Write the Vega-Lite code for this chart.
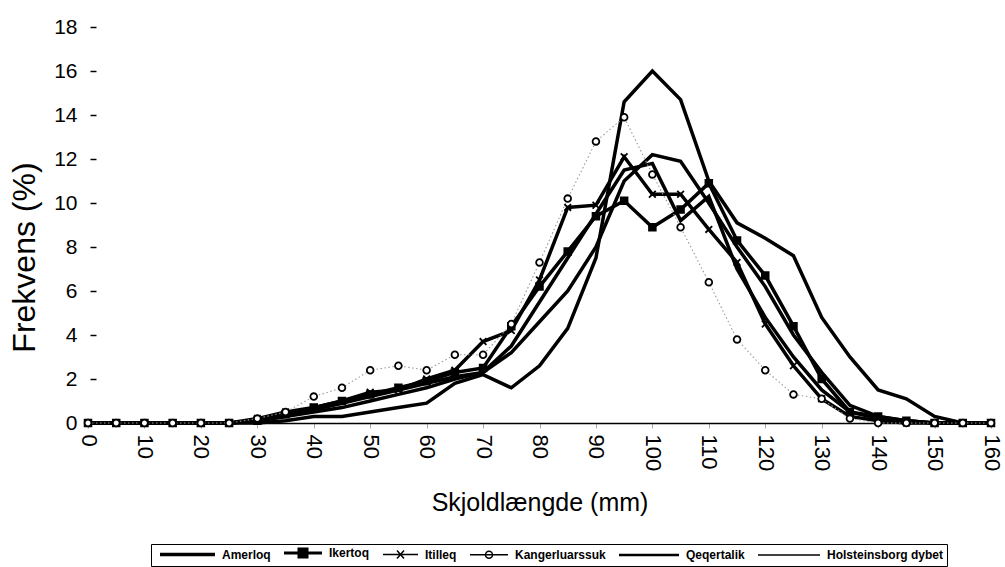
{
  "$schema": "https://vega.github.io/schema/vega-lite/v6.json",
  "autosize": "none",
  "width": 903,
  "height": 396,
  "padding": {"left": 88, "top": 27, "right": 14, "bottom": 144},
  "background": "white",
  "config": {
    "view": {"stroke": null},
    "font": "Liberation Sans",
    "axis": {"labelColor": "black", "titleColor": "black", "grid": false, "labelFont": "Liberation Sans", "titleFont": "Liberation Sans", "titleFontWeight": "normal"}
  },
  "data": {
    "values": [
      {"x": 0, "Amerloq": 0, "Ikertoq": 0, "Itilleq": 0, "Kangerluarssuk": 0, "Qeqertalik": 0, "Holsteinsborg dybet": 0},
      {"x": 5, "Amerloq": 0, "Ikertoq": 0, "Itilleq": 0, "Kangerluarssuk": 0, "Qeqertalik": 0, "Holsteinsborg dybet": 0},
      {"x": 10, "Amerloq": 0, "Ikertoq": 0, "Itilleq": 0, "Kangerluarssuk": 0, "Qeqertalik": 0, "Holsteinsborg dybet": 0},
      {"x": 15, "Amerloq": 0, "Ikertoq": 0, "Itilleq": 0, "Kangerluarssuk": 0, "Qeqertalik": 0, "Holsteinsborg dybet": 0},
      {"x": 20, "Amerloq": 0, "Ikertoq": 0, "Itilleq": 0, "Kangerluarssuk": 0, "Qeqertalik": 0, "Holsteinsborg dybet": 0},
      {"x": 25, "Amerloq": 0, "Ikertoq": 0, "Itilleq": 0, "Kangerluarssuk": 0, "Qeqertalik": 0, "Holsteinsborg dybet": 0},
      {"x": 30, "Amerloq": 0.1, "Ikertoq": 0.1, "Itilleq": 0.2, "Kangerluarssuk": 0.2, "Qeqertalik": 0.1, "Holsteinsborg dybet": 0},
      {"x": 35, "Amerloq": 0.3, "Ikertoq": 0.4, "Itilleq": 0.5, "Kangerluarssuk": 0.5, "Qeqertalik": 0.3, "Holsteinsborg dybet": 0.1},
      {"x": 40, "Amerloq": 0.6, "Ikertoq": 0.7, "Itilleq": 0.7, "Kangerluarssuk": 1.2, "Qeqertalik": 0.5, "Holsteinsborg dybet": 0.3},
      {"x": 45, "Amerloq": 0.9, "Ikertoq": 1.0, "Itilleq": 1.0, "Kangerluarssuk": 1.6, "Qeqertalik": 0.7, "Holsteinsborg dybet": 0.3},
      {"x": 50, "Amerloq": 1.2, "Ikertoq": 1.3, "Itilleq": 1.4, "Kangerluarssuk": 2.4, "Qeqertalik": 1.0, "Holsteinsborg dybet": 0.5},
      {"x": 55, "Amerloq": 1.5, "Ikertoq": 1.6, "Itilleq": 1.5, "Kangerluarssuk": 2.6, "Qeqertalik": 1.3, "Holsteinsborg dybet": 0.7},
      {"x": 60, "Amerloq": 1.8, "Ikertoq": 1.9, "Itilleq": 2.0, "Kangerluarssuk": 2.4, "Qeqertalik": 1.6, "Holsteinsborg dybet": 0.9},
      {"x": 65, "Amerloq": 2.1, "Ikertoq": 2.3, "Itilleq": 2.4, "Kangerluarssuk": 3.1, "Qeqertalik": 2.0, "Holsteinsborg dybet": 1.8},
      {"x": 70, "Amerloq": 2.3, "Ikertoq": 2.5, "Itilleq": 3.7, "Kangerluarssuk": 3.1, "Qeqertalik": 2.3, "Holsteinsborg dybet": 2.2},
      {"x": 75, "Amerloq": 3.2, "Ikertoq": 4.4, "Itilleq": 4.2, "Kangerluarssuk": 4.5, "Qeqertalik": 3.5, "Holsteinsborg dybet": 1.6},
      {"x": 80, "Amerloq": 4.6, "Ikertoq": 6.2, "Itilleq": 6.5, "Kangerluarssuk": 7.3, "Qeqertalik": 5.5, "Holsteinsborg dybet": 2.6},
      {"x": 85, "Amerloq": 6.0, "Ikertoq": 7.8, "Itilleq": 9.8, "Kangerluarssuk": 10.2, "Qeqertalik": 7.5, "Holsteinsborg dybet": 4.3},
      {"x": 90, "Amerloq": 8.0, "Ikertoq": 9.4, "Itilleq": 9.9, "Kangerluarssuk": 12.8, "Qeqertalik": 9.5, "Holsteinsborg dybet": 7.5},
      {"x": 95, "Amerloq": 11.0, "Ikertoq": 10.1, "Itilleq": 12.1, "Kangerluarssuk": 13.9, "Qeqertalik": 11.5, "Holsteinsborg dybet": 14.6},
      {"x": 100, "Amerloq": 12.2, "Ikertoq": 8.9, "Itilleq": 10.4, "Kangerluarssuk": 11.3, "Qeqertalik": 11.8, "Holsteinsborg dybet": 16.0},
      {"x": 105, "Amerloq": 11.9, "Ikertoq": 9.7, "Itilleq": 10.4, "Kangerluarssuk": 8.9, "Qeqertalik": 9.2, "Holsteinsborg dybet": 14.7},
      {"x": 110, "Amerloq": 10.0, "Ikertoq": 10.9, "Itilleq": 8.8, "Kangerluarssuk": 6.4, "Qeqertalik": 10.3, "Holsteinsborg dybet": 11.0},
      {"x": 115, "Amerloq": 8.0, "Ikertoq": 8.3, "Itilleq": 7.3, "Kangerluarssuk": 3.8, "Qeqertalik": 7.0, "Holsteinsborg dybet": 9.1},
      {"x": 120, "Amerloq": 6.2, "Ikertoq": 6.7, "Itilleq": 4.5, "Kangerluarssuk": 2.4, "Qeqertalik": 4.8, "Holsteinsborg dybet": 8.4},
      {"x": 125, "Amerloq": 4.0, "Ikertoq": 4.4, "Itilleq": 2.6, "Kangerluarssuk": 1.3, "Qeqertalik": 3.0, "Holsteinsborg dybet": 7.6},
      {"x": 130, "Amerloq": 2.3, "Ikertoq": 2.0, "Itilleq": 1.1, "Kangerluarssuk": 1.1, "Qeqertalik": 1.5, "Holsteinsborg dybet": 4.8},
      {"x": 135, "Amerloq": 0.8, "Ikertoq": 0.5, "Itilleq": 0.3, "Kangerluarssuk": 0.2, "Qeqertalik": 0.5, "Holsteinsborg dybet": 3.0},
      {"x": 140, "Amerloq": 0.3, "Ikertoq": 0.3, "Itilleq": 0.1, "Kangerluarssuk": 0, "Qeqertalik": 0.2, "Holsteinsborg dybet": 1.5},
      {"x": 145, "Amerloq": 0.1, "Ikertoq": 0.1, "Itilleq": 0, "Kangerluarssuk": 0, "Qeqertalik": 0.1, "Holsteinsborg dybet": 1.1},
      {"x": 150, "Amerloq": 0, "Ikertoq": 0, "Itilleq": 0, "Kangerluarssuk": 0, "Qeqertalik": 0, "Holsteinsborg dybet": 0.3},
      {"x": 155, "Amerloq": 0, "Ikertoq": 0, "Itilleq": 0, "Kangerluarssuk": 0, "Qeqertalik": 0, "Holsteinsborg dybet": 0},
      {"x": 160, "Amerloq": 0, "Ikertoq": 0, "Itilleq": 0, "Kangerluarssuk": 0, "Qeqertalik": 0, "Holsteinsborg dybet": 0}
    ]
  },
  "transform": [
    {"fold": ["Amerloq", "Ikertoq", "Itilleq", "Kangerluarssuk", "Qeqertalik", "Holsteinsborg dybet"], "as": ["series", "v"]}
  ],
  "encoding": {
    "x": {
      "field": "x", "type": "quantitative",
      "scale": {"domain": [0, 160], "nice": false},
      "axis": {
        "values": [0, 10, 20, 30, 40, 50, 60, 70, 80, 90, 100, 110, 120, 130, 140, 150, 160],
        "labelAngle": 90, "labelFontSize": 22, "labelPadding": 6,
        "tickSize": 5, "tickColor": "#aaa", "domainColor": "black", "domainWidth": 1.5,
        "title": "Skjoldlængde (mm)", "titleFontSize": 25, "titlePadding": 20
      }
    },
    "y": {
      "field": "v", "type": "quantitative",
      "scale": {"domain": [0, 18], "nice": false},
      "axis": {
        "values": [0, 2, 4, 6, 8, 10, 12, 14, 16, 18],
        "offset": -8, "domain": false, "tickSize": 6, "tickColor": "black", "tickWidth": 1.5,
        "labelPadding": 13, "labelFontSize": 21,
        "title": "Frekvens (%)", "titleFontSize": 32, "titlePadding": 12, "titleY": 230
      }
    }
  },
  "layer": [
    {
      "transform": [{"filter": "datum.series !== 'Kangerluarssuk'"}],
      "mark": {"type": "line", "strokeJoin": "miter"},
      "encoding": {
        "color": {
          "field": "series", "type": "nominal",
          "scale": {"domain": ["Amerloq", "Ikertoq", "Itilleq", "Kangerluarssuk", "Qeqertalik", "Holsteinsborg dybet"], "range": ["black", "black", "black", "black", "black", "black"]},
          "legend": {
            "orient": "none", "legendX": 63, "legendY": 517, "direction": "horizontal", "columns": 6,
            "title": null, "labelFont": "Liberation Sans", "labelFontSize": 12, "labelFontWeight": "bold", "labelColor": "black",
            "symbolSize": 4, "labelOffset": 1, "columnPadding": 7, "strokeColor": "black", "padding": 3,
            "encode": {
              "symbols": {
                "update": {
                  "shape": {"signal": "datum.value === 'Amerloq' ? 'M0,0H55' : datum.value === 'Ikertoq' ? 'M0,0H38M15,-4H23V4H15Z' : datum.value === 'Itilleq' ? 'M0,0H35M14,-4L21,4M14,4L21,-4' : datum.value === 'Kangerluarssuk' ? 'M0,0H38M22.5,0A3.5,3.5 0 1 1 15.5,0A3.5,3.5 0 1 1 22.5,0' : datum.value === 'Qeqertalik' ? 'M0,0H60' : 'M0,0H62'"},
                  "strokeWidth": {"signal": "datum.value === 'Amerloq' ? 3.5 : datum.value === 'Ikertoq' ? 3 : datum.value === 'Qeqertalik' ? 2.5 : 1.5"},
                  "fill": {"signal": "datum.value === 'Ikertoq' ? 'black' : 'transparent'"}
                }
              },
              "labels": {
                "update": {
                  "dx": {"signal": "datum.value === 'Amerloq' ? 55 : datum.value === 'Ikertoq' ? 38 : datum.value === 'Itilleq' ? 35 : datum.value === 'Kangerluarssuk' ? 38 : datum.value === 'Qeqertalik' ? 60 : 62"}
                }
              }
            }
          }
        },
        "strokeWidth": {
          "field": "series", "type": "nominal",
          "scale": {"domain": ["Amerloq", "Ikertoq", "Itilleq", "Qeqertalik", "Holsteinsborg dybet"], "range": [3.5, 3.5, 2, 2.5, 1.5]},
          "legend": null
        }
      }
    },
    {
      "transform": [{"filter": "datum.series === 'Kangerluarssuk'"}],
      "mark": {"type": "line", "color": "#999999", "strokeWidth": 1.1, "strokeDash": [1.5, 2.5]},
      "encoding": {}
    },
    {
      "transform": [{"filter": "datum.series === 'Ikertoq' || datum.series === 'Itilleq' || datum.series === 'Kangerluarssuk'"}],
      "mark": {"type": "point", "stroke": "black", "strokeWidth": 1.8, "opacity": 1, "size": 45},
      "encoding": {
        "shape": {
          "field": "series", "type": "nominal",
          "scale": {"domain": ["Ikertoq", "Itilleq", "Kangerluarssuk"], "range": ["square", "M-1,-1L1,1M-1,1L1,-1", "circle"]},
          "legend": null
        },
        "fill": {
          "field": "series", "type": "nominal",
          "scale": {"domain": ["Ikertoq", "Itilleq", "Kangerluarssuk"], "range": ["black", "transparent", "white"]},
          "legend": null
        }
      }
    }
  ]
}
